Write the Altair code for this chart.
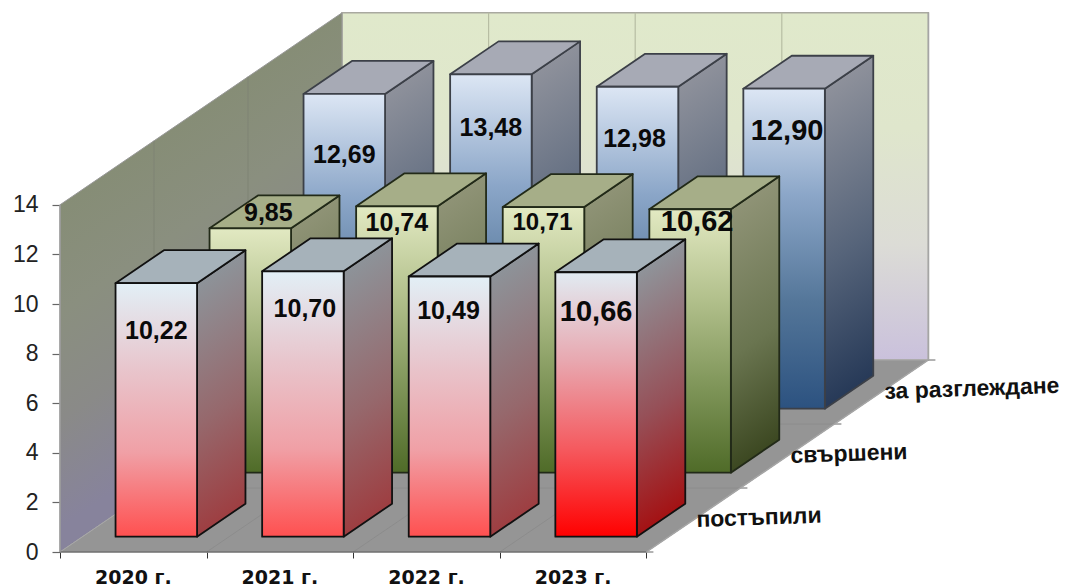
import altair as alt
import pandas as pd

# ---- data ----
years = ["2020 г.", "2021 г.", "2022 г.", "2023 г."]
rows = ["постъпили", "свършени", "за разглеждане"]
postapili = [10.22, 10.70, 10.49, 10.66]
svarsheni = [9.85, 10.74, 10.71, 10.62]
za_razglezhdane = [12.69, 13.48, 12.98, 12.90]
y_ticks = [0, 2, 4, 6, 8, 10, 12, 14]
series = [postapili, svarsheni, za_razglezhdane]

# ---- projection of the oblique 3D box (data units) ----
PX_X, PX_Y = 146.6, 24.8          # px per category / per value unit
DEPTH_X, DEPTH_Y = 94 / PX_X, 64 / PX_Y  # screen shift per depth row
W, H = 1000, 544
BAR_OFF, BAR_W = 0.225, 0.556
D_OFF, D_LEN = 0.24, 0.515
NX, ND = len(years), len(rows)
YMAX = y_ticks[-1]


def px(i, d):
    return i + d * DEPTH_X


def py(v, d):
    return v + d * DEPTH_Y


x_s = alt.Scale(domain=[0, W / PX_X], range=[0, W], nice=False, zero=False)
y_s = alt.Scale(domain=[0, H / PX_Y], range=[H, 0], nice=False, zero=False)
x_axis = alt.Axis(values=list(range(NX + 1)), labels=False, grid=False, domain=False, title=None,
                  tickColor="#333333", tickSize=6, tickWidth=1)
y_axis = alt.Axis(values=y_ticks, grid=False, domain=False, title=None, tickColor="#666666", tickSize=8,
                  tickWidth=1.2, labelFontSize=23, labelFont="Liberation Sans", labelColor="#222222",
                  labelPadding=14, labelFontWeight="normal")
X = lambda f="x": alt.X(f"{f}:Q", scale=x_s, axis=x_axis, title=None)
Y = lambda f="y": alt.Y(f"{f}:Q", scale=y_s, axis=y_axis, title=None)


def grad(stops):
    n = len(stops)
    return alt.Gradient(gradient="linear", x1=0, y1=0, x2=0, y2=1,
                        stops=[alt.GradientStop(color=c, offset=k / (n - 1)) for k, c in enumerate(stops)])


def sheared(stops, a):
    """Gradient whose iso-lines follow the slope of a receding parallelogram."""
    k = 1 / (a * a + 1)
    n = len(stops)
    return alt.Gradient(gradient="linear", x1=0, y1=a, x2=k * a, y2=a + k,
                        stops=[alt.GradientStop(color=c, offset=i / (n - 1)) for i, c in enumerate(stops)])


def v_face(x0, x1, y0, y1, y20, y21, fill, **kw):
    df = pd.DataFrame({"x": [x0, x1], "y": [y0, y1], "y2": [y20, y21]})
    return alt.Chart(df).mark_area(fill=fill, **kw).encode(x=X(), y=Y(), y2="y2:Q")


def h_face(x0, x1, x20, x21, y0, y1, fill, **kw):
    df = pd.DataFrame({"x": [x0, x1], "x2": [x20, x21], "y": [y0, y1]})
    return alt.Chart(df).mark_area(fill=fill, orient="horizontal", **kw).encode(x=X(), x2="x2:Q", y=Y())


def segs(items, color, width):
    df = pd.DataFrame(items, columns=["x", "y", "x2", "y2"])
    return alt.Chart(df).mark_rule(color=color, strokeWidth=width).encode(x=X(), y=Y(), x2="x2:Q", y2="y2:Q")


layers = []

# back wall
back_fill = grad(["#e0e9cb", "#dfe6cc", "#dcdcd6", "#cac1dc"])
layers.append(v_face(px(0, ND), px(NX, ND), py(YMAX, ND), py(YMAX, ND), py(0, ND), py(0, ND), back_fill,
                     stroke="#a9a9a0", strokeWidth=1.5))
# left wall
lw_a = (ND * DEPTH_Y) / (YMAX + ND * DEPTH_Y)
left_fill = sheared(["#868d76", "#8a8f7f", "#8a8a88", "#87839c", "#87839c", "#87839c"], lw_a)
layers.append(v_face(px(0, 0), px(0, ND), py(YMAX, 0), py(YMAX, ND), py(0, 0), py(0, ND), left_fill,
                     stroke="#9a9a9a", strokeWidth=1))
# floor
layers.append(h_face(px(0, 0), px(0, ND), px(NX, 0), px(NX, ND), py(0, 0), py(0, ND), "#959595",
                     stroke="#a8a8a8", strokeWidth=1))
# grid lines on the walls and floor
layers.append(segs([(px(i, ND), py(0, ND), px(i, ND), py(YMAX, ND)) for i in range(1, NX)], "#b7bda3", 1.2))
layers.append(segs([(px(0, d), py(0, d), px(0, d), py(YMAX, d)) for d in range(1, ND)], "#7f8375", 1))
layers.append(segs([(px(i, 0), py(0, 0), px(i, ND), py(0, ND)) for i in range(1, NX)], "#8c8c8c", 1))
layers.append(segs([(px(0, d), py(0, d), px(NX, d), py(0, d)) for d in range(1, ND)], "#8c8c8c", 1))
# x-axis line, y-axis line, right-hand depth ticks
layers.append(segs([(0, 0, NX, 0)], "#555555", 1.2))
layers.append(segs([(0, 0, 0, YMAX)], "#9c9c9c", 1.5))
layers.append(segs([(px(NX, d), py(0, d), px(NX, d) + 7 / PX_X, py(0, d)) for d in range(ND + 1)], "#666666", 1))
layers.append(segs([(px(NX, 0), py(0, 0), px(NX, ND), py(0, ND)), (px(NX, ND), py(0, ND), px(NX, ND), py(YMAX, ND))],
                   "#a5a5a5", 1.5))

# colours per row: (front, side, top, edge)
red = (["#e2eff6", "#e8c6cd", "#f0a0a6", "#ff5050"], ["#8d9399", "#96686c", "#a03235"], "#a6b2ba", "#111111")
red_hot = (["#e1ebf2", "#e8a8b0", "#f55a5f", "#ff0000"], ["#8f949a", "#965058", "#a80000"], "#a6b2ba", "#111111")
green = (["#e2e9c2", "#b3c18d", "#80965a", "#4f6b28"], ["#8f9376", "#6a7550", "#2f3b14"], "#a6ae88", "#222a18")
blue = (["#dce6f4", "#8ba6c8", "#547699", "#2c5280"], ["#8e919b", "#56647a", "#1c3050"], "#a7aab5", "#3c4048")
styles = [[red, red, red, red_hot], [green] * 4, [blue] * 4]

# bars, back row first
for d in reversed(range(ND)):
    for i in range(NX):
        v = series[d][i]
        front, side, top, edge = styles[d][i]
        dn, df_ = d + D_OFF, d + D_OFF + D_LEN
        xl, xr = i + BAR_OFF, i + BAR_OFF + BAR_W
        style = dict(stroke=edge, strokeWidth=1.8, strokeJoin="round")
        a = (D_LEN * DEPTH_Y) / (v + D_LEN * DEPTH_Y)
        layers.append(v_face(px(xr, dn), px(xr, df_), py(v, dn), py(v, df_), py(0, dn), py(0, df_),
                             sheared(side, a), **style))
        layers.append(h_face(px(xl, dn), px(xl, df_), px(xr, dn), px(xr, df_), py(v, dn), py(v, df_), top, **style))
        rect = pd.DataFrame({"x": [px(xl, dn)], "x2": [px(xr, dn)], "y": [py(v, dn)], "y2": [py(0, dn)]})
        layers.append(alt.Chart(rect).mark_rect(fill=grad(front), **style).encode(
            x=X(), x2="x2:Q", y=Y(), y2="y2:Q"))

# value labels: shift from the bar's front top centre (px), font size
label_shift = [
    [(0, 48, 25), (2, 38, 25), (-1, 35, 25), (0, 40, 29)],
    [(18, -15, 25), (0, 17, 25), (-1, 16, 24), (7, 13, 29)],
    [(0, 61, 25), (0, 54, 25), (-3, 52, 25), (3, 42, 29)],
]
recs = []
for d in range(ND):
    for i in range(NX):
        v = series[d][i]
        sx, sy, fs = label_shift[d][i]
        recs.append({"x": px(i + BAR_OFF + BAR_W / 2, d + D_OFF) + sx / PX_X,
                     "y": py(v, d + D_OFF) - sy / PX_Y,
                     "t": f"{v:.2f}".replace(".", ","), "s": fs})
layers.append(alt.Chart(pd.DataFrame(recs)).mark_text(
    font="Liberation Sans", fontWeight="bold", color="#0a0a0a", baseline="middle", align="center").encode(
    x=X(), y=Y(), text="t:N", size=alt.Size("s:Q", scale=None, legend=None)))

# category labels below the floor
layers.append(alt.Chart(pd.DataFrame({"x": [i + 0.5 for i in range(NX)], "y": [-25.5 / PX_Y] * NX, "t": years})).mark_text(
    font="DejaVu Sans", fontWeight="bold", fontSize=19, color="#111111", baseline="middle", align="center").encode(
    x=X(), y=Y(), text="t:N"))

# depth labels at the right
layers.append(alt.Chart(pd.DataFrame({"x": [px(NX, d + 0.5) + 3 / PX_X for d in range(ND)],
                                      "y": [py(0, d + 0.5) for d in range(ND)], "t": rows})).mark_text(
    font="Liberation Sans", fontWeight="bold", fontSize=23, color="#111111", baseline="middle", align="left",
    angle=358).encode(x=X(), y=Y(), text="t:N"))

chart = alt.layer(*layers).properties(
    width=W, height=H,
    autosize=alt.AutoSizeParams(type="none"),
    padding={"left": 52, "top": 0, "right": 2, "bottom": 36},
).configure_view(stroke=None)

chart.save("out.html", embed_options={"renderer": "svg", "actions": False})
